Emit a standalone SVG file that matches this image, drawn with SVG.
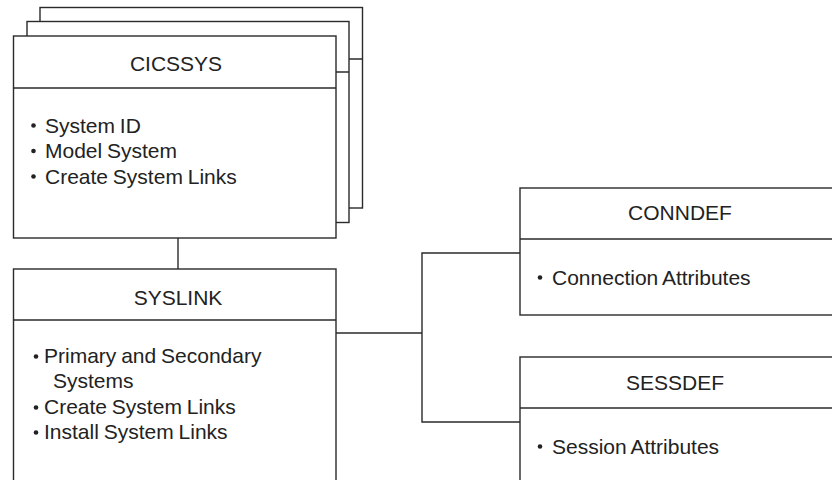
<svg xmlns="http://www.w3.org/2000/svg" width="832" height="480" viewBox="0 0 832 480">
<style>
.box{fill:#fff;stroke:#2a2a2a;stroke-width:1.4}
.ln{fill:none;stroke:#2a2a2a;stroke-width:1.4}
.t{font-family:"Liberation Sans",Arial,sans-serif;font-size:21px;word-spacing:-1px;fill:#222}
.c{text-anchor:middle}
.b{fill:#222}
</style>
<rect width="832" height="480" fill="#fff"/>
<g id="cicssys">
<rect class="box" x="40" y="7.5" width="322.5" height="200.5"/>
<line class="ln" x1="40" y1="59" x2="362.5" y2="59"/>
<rect class="box" x="27" y="21.5" width="322" height="201"/>
<line class="ln" x1="27" y1="72" x2="349" y2="72"/>
<rect class="box" x="13.5" y="36" width="322.5" height="202"/>
<line class="ln" x1="13.5" y1="88" x2="336" y2="88"/>
<text class="t c" x="176" y="70.5">CICSSYS</text>
<circle class="b" cx="33.5" cy="125.5" r="2.3"/>
<text class="t" x="45" y="132.5">System ID</text>
<circle class="b" cx="33.5" cy="151" r="2.3"/>
<text class="t" x="45" y="158">Model System</text>
<circle class="b" cx="33.5" cy="176.5" r="2.3"/>
<text class="t" x="45" y="183.5">Create System Links</text>
</g>
<g id="syslink">
<rect class="box" x="13.5" y="269" width="322.5" height="260"/>
<line class="ln" x1="13.5" y1="320" x2="336" y2="320"/>
<text class="t c" x="178" y="305">SYSLINK</text>
<circle class="b" cx="36" cy="356.5" r="2.3"/>
<text class="t" x="44" y="363">Primary and Secondary</text>
<text class="t" x="53" y="388">Systems</text>
<circle class="b" cx="36" cy="407.5" r="2.3"/>
<text class="t" x="44" y="414">Create System Links</text>
<circle class="b" cx="36" cy="432.5" r="2.3"/>
<text class="t" x="44" y="439">Install System Links</text>
</g>
<g id="conndef">
<rect class="box" x="520" y="188" width="330" height="127"/>
<line class="ln" x1="520" y1="239" x2="850" y2="239"/>
<text class="t c" x="680" y="220">CONNDEF</text>
<circle class="b" cx="540" cy="277.5" r="2.3"/>
<text class="t" x="552" y="285">Connection Attributes</text>
</g>
<g id="sessdef">
<rect class="box" x="520" y="357" width="330" height="200"/>
<line class="ln" x1="520" y1="408" x2="850" y2="408"/>
<text class="t c" x="675" y="390">SESSDEF</text>
<circle class="b" cx="540" cy="446.5" r="2.3"/>
<text class="t" x="552" y="454">Session Attributes</text>
</g>
<g id="connectors">
<line class="ln" x1="178" y1="238" x2="178" y2="269"/>
<polyline class="ln" points="336,333 422,333"/>
<polyline class="ln" points="520,253 422,253 422,422 520,422"/>
</g>
</svg>
